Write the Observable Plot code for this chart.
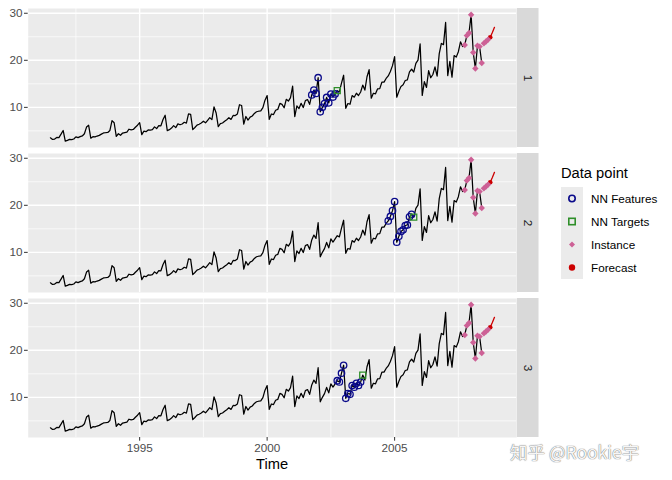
<!DOCTYPE html>
<html><head><meta charset="utf-8">
<script src="https://cdn.jsdelivr.net/npm/d3@7"></script>
<script src="https://cdn.jsdelivr.net/npm/@observablehq/plot@0.6"></script>
<style>
body{margin:0;background:#fff;}
#wrap{position:relative;width:672px;height:480px;font-family:"Liberation Sans",Arial,sans-serif;overflow:hidden;}
#chart{position:absolute;left:0;top:0;}
.abs{position:absolute;white-space:nowrap;}
</style></head><body>
<div id="wrap"><div id="chart"></div></div>
<script>
// ---- data ----
const seriesStart = 1991.5; // July 1991, monthly
const seriesValues = [
 3.526591,3.180891,3.252221,3.611003,3.565869,4.306371,
 5.088335,2.814520,2.985811,3.204780,3.127578,3.270523,3.737851,3.558776,3.777202,3.924490,4.386531,5.810549,
 6.192068,3.450857,3.772307,3.734303,3.905399,4.049687,4.315566,4.562185,4.608662,4.667851,5.093841,7.179962,
 6.731473,3.841278,4.394076,4.075341,4.540645,4.645615,4.752607,5.350605,5.204455,5.301651,5.773742,6.204593,
 6.749484,4.216067,4.949349,4.823045,5.194754,5.170787,5.256742,5.855277,5.490729,6.115293,6.088473,7.416598,
 8.329452,5.069796,5.262557,5.597126,6.110296,5.689161,6.486849,6.300569,6.467643,6.828629,6.649216,8.606867,
 8.524471,5.277918,5.714303,6.214529,6.411929,6.667716,7.050831,6.704919,7.250988,7.819733,7.398101,10.096233,
 8.798513,5.918261,6.534493,6.675736,7.064201,7.383381,7.813496,7.431892,8.275117,8.260441,8.596156,10.558939,
 10.391416,6.421535,8.062619,7.297739,7.936916,8.165323,8.717420,9.070964,9.177113,9.251887,9.933136,11.532974,
 12.511462,7.457199,8.591191,8.474000,9.386803,9.560399,10.834295,10.643751,9.908162,11.710041,11.340151,12.079132,
 14.497581,8.049275,10.312891,9.753358,10.850382,9.961719,11.443601,11.659239,10.647060,12.652134,13.674466,12.965735,
 16.300269,9.053485,10.002449,10.788750,12.106705,10.954101,12.844566,12.196500,12.854748,13.542004,13.287640,15.134918,
 16.828350,9.800215,10.816994,10.654223,12.512323,12.161210,12.998046,12.517276,13.268658,14.733622,13.669382,16.503966,
 18.003768,11.938030,12.997900,12.882645,13.943447,13.989472,15.339097,15.370764,16.142005,16.685754,17.636728,18.869325,
 20.778723,12.154552,13.402392,14.459239,14.795102,15.705248,15.829550,17.554701,18.100864,17.496668,19.347265,20.031291,
 23.486694,12.536987,15.467018,14.233539,17.783058,16.291602,16.980282,18.612189,16.623343,21.430241,23.575517,23.334206,
 28.038383,16.763869,19.792754,16.427305,21.000742,20.681002,21.834890,23.930204,22.930357,23.263340,25.250030,25.806090,
 29.665356,21.654285,18.264945,23.107677,22.912510,19.431740
];
const facetKeys = ["1","2","3"];
const featureStarts = [2001.75, 2004.75, 2002.75]; // Oct 2001, Oct 2004, Oct 2002
const features1 = [12.652134,13.674466,12.965735,16.300269,9.053485,10.002449,10.788750,12.106705,10.954101,12.844566,12.196500,12.854748];
const features2 = [16.685754,17.636728,18.869325,20.778723,12.154552,13.402392,14.459239,14.795102,15.705248,15.829550,17.554701,18.100864];
const features3 = [13.542004,13.287640,15.134918,16.828350,9.800215,10.816994,10.654223,12.512323,12.161210,12.998046,12.517276,13.268658];
const targetValues = [13.542004, 17.496668, 14.733622];
const instanceStart = 2007.75; // Oct 2007
const instanceValues = [23.263340,25.250030,25.806090,29.665356,21.654285,18.264945,23.107677,22.912510,19.431740,23.6,24.0,24.4];
const forecastStart = 2008.5; // Jul 2008 .. Dec 2008
const forecastValues = [23.6,24.0,24.4,24.9,25.9,27.0];
const forecastPointTime = [2008.75]; // Oct 2008
const forecastPointValue = [24.9];
const xTicks = [1995, 2000, 2005];
const xMinor = [1992.5, 1997.5, 2002.5, 2007.5];
const yTicks = [10, 20, 30];
const yMinor = [5, 15, 25];
const legendLabels = ["NN Features", "NN Targets", "Instance", "Forecast"];
const colors = {features: "#0a0a8a", targets: "#2f8f2a", instance: "#cd6196", forecast: "#cc0000"};

// ---- tables ----
const series = seriesValues.map((v, i) => ({t: seriesStart + i / 12, v}));
const feats = [features1, features2, features3].flatMap((arr, k) =>
  arr.map((v, i) => ({facet: facetKeys[k], t: featureStarts[k] + i / 12, v})));
const targs = targetValues.map((v, k) => ({facet: facetKeys[k], t: featureStarts[k] + 1, v}));
const inst = instanceValues.map((v, i) => ({t: instanceStart + i / 12, v}));
const fc = forecastValues.map((v, i) => ({t: forecastStart + i / 12, v}));
const fcPt = forecastPointTime.map((t, i) => ({t, v: forecastPointValue[i]}));

const yDom = [1.47, 31.01];
const chart = Plot.plot({
  width: 672, height: 480,
  marginLeft: 27.7, marginRight: 155.8, marginTop: 7, marginBottom: 42.5,
  style: {fontFamily: "Liberation Sans, Arial, sans-serif", fontSize: "11.7px", background: "white", overflow: "visible"},
  x: {domain: [1990.629, 2009.788], label: null},
  y: {domain: yDom, label: null},
  fy: {domain: facetKeys, paddingInner: 0.0446, paddingOuter: 0, label: null, axis: null},
  marks: [
    Plot.frame({fill: "#EBEBEB", stroke: null}),
    Plot.ruleY(yMinor, {stroke: "white", strokeWidth: 0.7}),
    Plot.ruleX(xMinor, {stroke: "white", strokeWidth: 0.7}),
    Plot.ruleY(yTicks, {stroke: "white", strokeWidth: 1.4}),
    Plot.ruleX(xTicks, {stroke: "white", strokeWidth: 1.4}),
    Plot.rect([0], {x1: 2009.816, x2: 2010.663, y1: yDom[0], y2: yDom[1], fill: "#D9D9D9"}),
    Plot.text(facetKeys, {fy: d => d, x: 2010.24, y: (yDom[0] + yDom[1]) / 2, text: d => d, rotate: 90, fill: "#1A1A1A", fontSize: 11.7}),
    Plot.axisY(yTicks, {tickSize: 3.7, tickPadding: 2, label: null, stroke: "#333333", fill: "#4D4D4D", strokeWidth: 1}),
    Plot.axisX(xTicks, {tickSize: 3.7, tickPadding: 2, label: null, stroke: "#333333", fill: "#4D4D4D", tickFormat: d => String(d), strokeWidth: 1}),
    Plot.line(series, {x: "t", y: "v", stroke: "black", strokeWidth: 1.25}),
    Plot.line(fc, {x: "t", y: "v", stroke: colors.forecast, strokeWidth: 1.3}),
    Plot.dot(feats, {fy: "facet", x: "t", y: "v", r: 3.2, stroke: colors.features, strokeWidth: 1.3, fill: "none"}),
    Plot.dot(targs, {fy: "facet", x: "t", y: "v", symbol: "square", r: 3.4, stroke: colors.targets, strokeWidth: 1.3, fill: "none"}),
    Plot.dot(fcPt, {x: "t", y: "v", r: 2.3, fill: colors.forecast, stroke: null}),
    Plot.dot(inst, {x: "t", y: "v", symbol: "diamond2", r: 2.9, fill: colors.instance, stroke: null})
  ]
});
const wrap = document.getElementById("wrap");
document.getElementById("chart").appendChild(chart);

function addText(txt, left, top, size, color, extra) {
  const d = document.createElement("div");
  d.className = "abs";
  d.textContent = txt;
  d.style.left = left + "px"; d.style.top = top + "px";
  d.style.fontSize = size + "px"; d.style.lineHeight = size + "px"; d.style.color = color;
  if (extra) Object.assign(d.style, extra);
  wrap.appendChild(d);
  return d;
}
// x axis title
const tt = addText("Time", 272, 457, 14.7, "#000");
tt.style.transform = "translateX(-50%)";

// legend
addText("Data point", 561, 166, 14.7, "#000");
const keyBg = document.createElement("div");
keyBg.className = "abs";
Object.assign(keyBg.style, {left: "561px", top: "187px", width: "22px", height: "92px", background: "#EBEBEB"});
wrap.appendChild(keyBg);
const ns = "http://www.w3.org/2000/svg";
const keySvg = document.createElementNS(ns, "svg");
keySvg.setAttribute("width", 22); keySvg.setAttribute("height", 92);
keySvg.style.position = "absolute"; keySvg.style.left = "561px"; keySvg.style.top = "187px";
wrap.appendChild(keySvg);
legendLabels.forEach((lab, i) => {
  const cy = 11.5 + i * 23, cx = 11;
  let el;
  if (i === 0) { el = document.createElementNS(ns, "circle"); el.setAttribute("cx", cx); el.setAttribute("cy", cy); el.setAttribute("r", 3.2);
    el.setAttribute("fill", "none"); el.setAttribute("stroke", colors.features); el.setAttribute("stroke-width", 1.6); }
  else if (i === 1) { el = document.createElementNS(ns, "rect"); el.setAttribute("x", cx - 3.2); el.setAttribute("y", cy - 3.2); el.setAttribute("width", 6.4); el.setAttribute("height", 6.4);
    el.setAttribute("fill", "none"); el.setAttribute("stroke", colors.targets); el.setAttribute("stroke-width", 1.6); }
  else if (i === 2) { el = document.createElementNS(ns, "path"); el.setAttribute("d", `M${cx},${cy-3}L${cx+3},${cy}L${cx},${cy+3}L${cx-3},${cy}Z`); el.setAttribute("fill", colors.instance); }
  else { el = document.createElementNS(ns, "circle"); el.setAttribute("cx", cx); el.setAttribute("cy", cy); el.setAttribute("r", 3.2); el.setAttribute("fill", colors.forecast); }
  keySvg.appendChild(el);
  addText(lab, 591, 187 + cy - 6.5, 11.7, "#000", {lineHeight: "13px"});
});

// watermark
addText("知乎 @Rookie宇", 510, 443, 17.5, "rgba(255,255,255,0.95)", {
  fontFamily: '"Noto Sans CJK SC", "Noto Sans", sans-serif',
  textShadow: "0 0 1px #777, 0 0 1px #777"
});
</script>
</body></html>
